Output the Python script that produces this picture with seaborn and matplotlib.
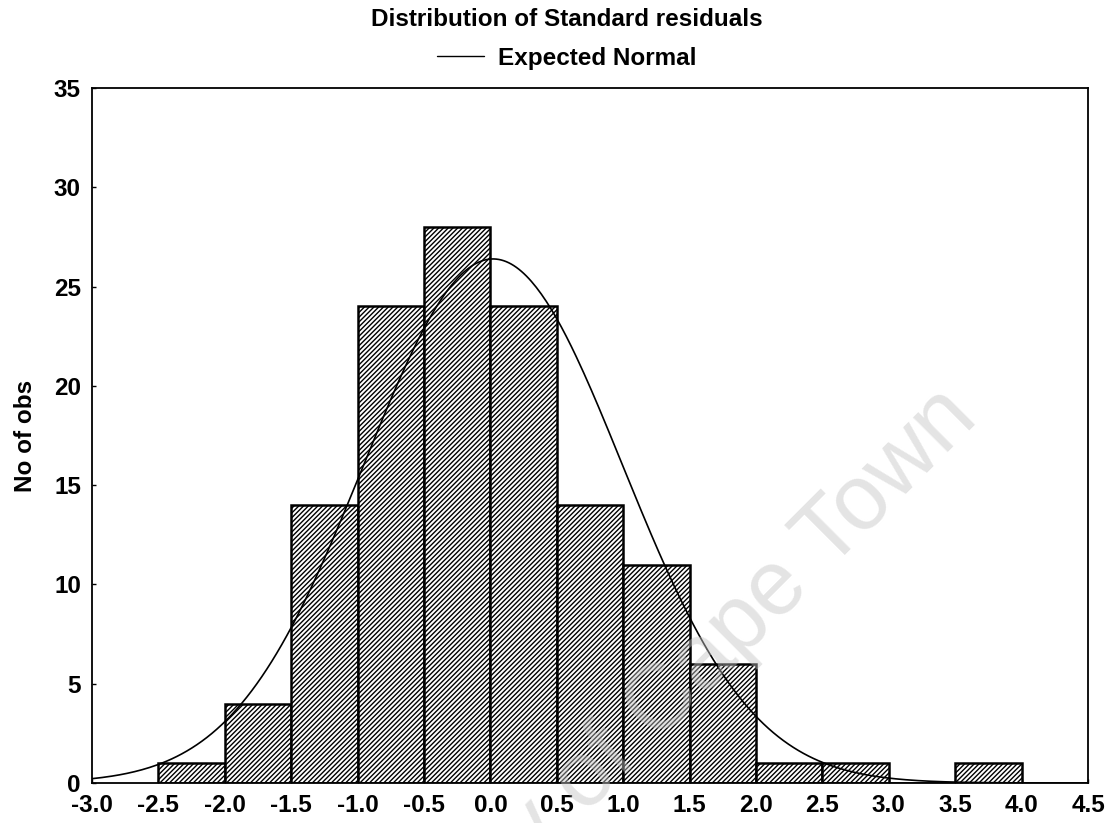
import numpy as np
import pandas as pd
import matplotlib
matplotlib.use("Agg")
import matplotlib.pyplot as plt
import seaborn as sns

# ---- data ----
bin_edges = [-2.5, -2.0, -1.5, -1.0, -0.5, 0.0, 0.5, 1.0, 1.5, 2.0, 2.5, 3.0, 3.5, 4.0]
bin_centers = [-2.25, -1.75, -1.25, -0.75, -0.25, 0.25, 0.75, 1.25, 1.75, 2.25, 2.75, 3.25, 3.75]
counts = [1, 4, 14, 24, 28, 24, 14, 11, 6, 1, 1, 0, 1]
normal_mean = 0.02
normal_sd = 0.975
x_ticks = [-3.0, -2.5, -2.0, -1.5, -1.0, -0.5, 0.0, 0.5, 1.0, 1.5, 2.0, 2.5, 3.0, 3.5, 4.0, 4.5]
y_ticks = [0, 5, 10, 15, 20, 25, 30, 35]

sns.set_theme(style="white")
plt.rcParams['font.family'] = ['Liberation Sans', 'DejaVu Sans']
plt.rcParams['text.color'] = 'black'
plt.rcParams['axes.labelcolor'] = 'black'
plt.rcParams['xtick.color'] = 'black'
plt.rcParams['ytick.color'] = 'black'
plt.rcParams['hatch.linewidth'] = 1.0
plt.rcParams['hatch.color'] = 'black'

fig = plt.figure(figsize=(11.1, 8.23), dpi=100)
ax = fig.add_axes([92/1110, 1 - 783/823, (1088 - 92)/1110, (783 - 88)/823])

df = pd.DataFrame({"x": bin_centers, "n": counts})
sns.histplot(data=df, x="x", weights="n", bins=bin_edges, ax=ax,
             color="white", edgecolor="black", linewidth=1.8, alpha=1.0)
for p in ax.patches:
    p.set_hatch("///////")
    p.set_facecolor("white")
    p.set_edgecolor("black")

# expected normal curve
n_total = sum(counts)
bw = 0.5
xs = np.linspace(-3.0, 4.5, 400)
ys = n_total * bw / (normal_sd * np.sqrt(2 * np.pi)) * np.exp(-0.5 * ((xs - normal_mean) / normal_sd) ** 2)
sns.lineplot(x=xs, y=ys, ax=ax, color="black", linewidth=1.2, label="Expected Normal")

ax.set_xlim(-3.0, 4.5)
ax.set_ylim(0, 35)
ax.set_xticks(x_ticks)
ax.set_xticklabels([f"{t:.1f}" for t in x_ticks])
ax.set_yticks(y_ticks)
ax.tick_params(axis="both", direction="in", length=3, width=1, colors="black",
               labelsize=17.5, pad=8, left=True, bottom=True)
for lab in ax.get_xticklabels() + ax.get_yticklabels():
    lab.set_fontweight("bold")
for s in ax.spines.values():
    s.set_visible(True)
    s.set_color("black")
    s.set_linewidth(1.3)
ax.set_xlabel("")
ax.set_ylabel("No of obs", fontsize=17.5, fontweight="bold", labelpad=12, color="black")

fig.text(567/1110, 1 - 20/823, "Distribution of Standard residuals", ha="center", va="center",
         fontsize=17.5, fontweight="bold", color="black")
leg = ax.legend(loc="center", bbox_to_anchor=(567/1110, 1 - 58/823), bbox_transform=fig.transFigure,
                frameon=False, handlelength=1.9, handletextpad=0.6,
                prop={"size": 17.5, "weight": "bold"})
for t in leg.get_texts():
    t.set_color("black")
for line in leg.get_lines():
    line.set_linewidth(1.0)

# faint watermark
fig.text(980/1110, 1 - 420/823, "University of Cape Town", rotation=45, rotation_mode="anchor",
         ha="right", va="baseline", fontsize=66, color="#c4c4c4", alpha=0.45, zorder=10)

fig.savefig("out.png", dpi=100)
